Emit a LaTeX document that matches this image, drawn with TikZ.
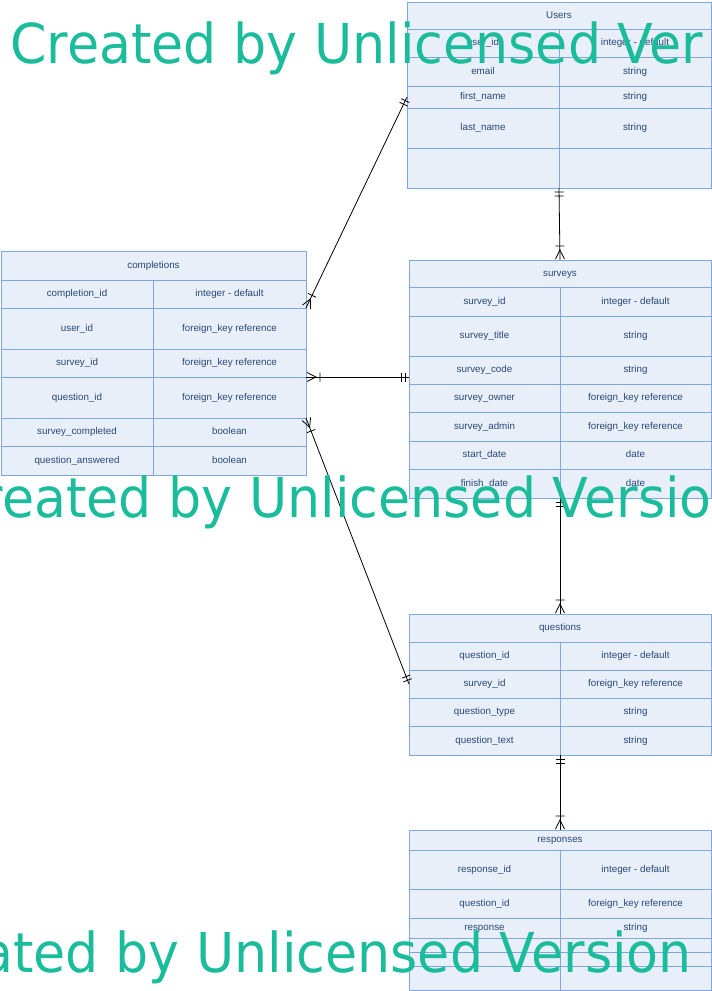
\documentclass[tikz,border=0pt]{standalone}
\usepackage{fontspec}
\setmainfont{Liberation Sans}
\newfontfamily\wmfont[FakeStretch=0.95]{DejaVu Sans}
\usepackage{tikz}
\usetikzlibrary{calc}

\definecolor{cellfill}{RGB}{233,239,249}
\definecolor{cellline}{RGB}{126,166,224}
\definecolor{celltext}{RGB}{38,72,120}
\definecolor{wmgreen}{RGB}{26,188,156}

% crow's foot tips
\pgfdeclarearrow{
  name = onlyone,
  setup code = {
    \pgfarrowssettipend{0pt}
    \pgfarrowssetlineend{0pt}
    \pgfarrowssetbackend{-9pt}
    \pgfarrowssetvisualbackend{-9pt}
    \pgfarrowshullpoint{0pt}{5pt}
    \pgfarrowshullpoint{0pt}{-5pt}
    \pgfarrowshullpoint{-9pt}{5pt}
    \pgfarrowshullpoint{-9pt}{-5pt}
  },
  drawing code = {
    \pgfsetdash{}{0pt}
    \pgfpathmoveto{\pgfqpoint{-4pt}{4.5pt}}
    \pgfpathlineto{\pgfqpoint{-4pt}{-4.5pt}}
    \pgfpathmoveto{\pgfqpoint{-8pt}{4.5pt}}
    \pgfpathlineto{\pgfqpoint{-8pt}{-4.5pt}}
    \pgfusepathqstroke
  }
}
\pgfdeclarearrow{
  name = onemany,
  setup code = {
    \pgfarrowssettipend{0pt}
    \pgfarrowssetlineend{0pt}
    \pgfarrowssetbackend{-15pt}
    \pgfarrowssetvisualbackend{-15pt}
    \pgfarrowshullpoint{0pt}{5pt}
    \pgfarrowshullpoint{0pt}{-5pt}
    \pgfarrowshullpoint{-15pt}{5pt}
    \pgfarrowshullpoint{-15pt}{-5pt}
  },
  drawing code = {
    \pgfsetdash{}{0pt}
    \pgfpathmoveto{\pgfqpoint{-1pt}{4.5pt}}
    \pgfpathlineto{\pgfqpoint{-10pt}{0pt}}
    \pgfpathlineto{\pgfqpoint{-1pt}{-4.5pt}}
    \pgfpathmoveto{\pgfqpoint{-14pt}{4.5pt}}
    \pgfpathlineto{\pgfqpoint{-14pt}{-4.5pt}}
    \pgfusepathqstroke
  }
}

\tikzset{
  cell/.style={draw=cellline, fill=cellfill, line width=0.9pt, inner sep=0pt, outer sep=0pt,
    text=celltext, text height=7pt, text depth=2pt, font=\fontsize{9.8}{11}\selectfont},
  rel/.style={draw=black, line width=0.8pt},
  wmark/.style={text=wmgreen, inner sep=0pt, anchor=base west, font=\wmfont\fontsize{55}{60}\selectfont}
}

\begin{document}
\begin{tikzpicture}[x=1pt,y=-1pt]
\useasboundingbox (0,0) rectangle (712,991);

% Users
\node[cell, minimum width=304pt, minimum height=27pt] (users) at (559,15.5) {Users};
\foreach \ya/\yb/\nm/\ty [count=\i] in {29/57/user\_id/integer - default, 57/86/email/string,
  86/108/first\_name/string, 108/148/last\_name/string, 148/188/{}/{}} {
\node[cell, minimum width=152pt, minimum height={\yb-\ya}] (users-l\i) at (483,{(\ya+\yb)/2}) {\nm};
\node[cell, minimum width=152pt, minimum height={\yb-\ya}] (users-r\i) at (635,{(\ya+\yb)/2}) {\ty};
}

% completions
\node[cell, minimum width=305pt, minimum height=29pt] (comp) at (153.5,265.5) {completions};
\foreach \ya/\yb/\nm/\ty [count=\i] in {280/308/completion\_id/integer - default,
  308/349/user\_id/foreign\_key reference, 349/377/survey\_id/foreign\_key reference,
  377/418/question\_id/foreign\_key reference, 418/446/survey\_completed/boolean,
  446/475/question\_answered/boolean} {
\node[cell, minimum width=152pt, minimum height={\yb-\ya}] (comp-l\i) at (77,{(\ya+\yb)/2}) {\nm};
\node[cell, minimum width=153pt, minimum height={\yb-\ya}] (comp-r\i) at (229.5,{(\ya+\yb)/2}) {\ty};
}

% surveys
\node[cell, minimum width=302pt, minimum height=27pt] (surv) at (560,273.5) {surveys};
\foreach \ya/\yb/\nm/\ty [count=\i] in {287/316/survey\_id/integer - default,
  316/356/survey\_title/string, 356/384/survey\_code/string,
  384/412/survey\_owner/foreign\_key reference, 412/441/survey\_admin/foreign\_key reference,
  441/469/start\_date/date, 469/498/finish\_date/date} {
\node[cell, minimum width=151pt, minimum height={\yb-\ya}] (surv-l\i) at (484.5,{(\ya+\yb)/2}) {\nm};
\node[cell, minimum width=151pt, minimum height={\yb-\ya}] (surv-r\i) at (635.5,{(\ya+\yb)/2}) {\ty};
}

% questions
\node[cell, minimum width=302pt, minimum height=28pt] (ques) at (560,628) {questions};
\foreach \ya/\yb/\nm/\ty [count=\i] in {642/670/question\_id/integer - default,
  670/698/survey\_id/foreign\_key reference, 698/726/question\_type/string,
  726/755/question\_text/string} {
\node[cell, minimum width=151pt, minimum height={\yb-\ya}] (ques-l\i) at (484.5,{(\ya+\yb)/2}) {\nm};
\node[cell, minimum width=151pt, minimum height={\yb-\ya}] (ques-r\i) at (635.5,{(\ya+\yb)/2}) {\ty};
}

% responses
\node[cell, minimum width=302pt, minimum height=20pt] (resp) at (560,840) {responses};
\foreach \ya/\yb/\nm/\ty [count=\i] in {850/889/response\_id/integer - default,
  889/918/question\_id/foreign\_key reference, 918/938/response/string,
  938/952/{}/{}, 952/966/{}/{}, 966/990/{}/{}} {
\node[cell, minimum width=151pt, minimum height={\yb-\ya}] (resp-l\i) at (484.5,{(\ya+\yb)/2}) {\nm};
\node[cell, minimum width=151pt, minimum height={\yb-\ya}] (resp-r\i) at (635.5,{(\ya+\yb)/2}) {\ty};
}

% relations
\draw[rel, onlyone-onemany] (users-l3.west) -- (comp-r1.south east);
\draw[rel, onemany-onlyone] (comp-r3.south east) -- (comp-r3.south east -| surv-l3.west);
\draw[rel, onemany-onlyone] (comp-r4.south east) -- (ques-l2.west);
\draw[rel, onlyone-onemany] (users-l5.south east) -- (surv.north);
\draw[rel, onlyone-onemany] (surv-l7.south east) -- (ques.north);
\draw[rel, onlyone-onemany] (ques-l4.south east) -- (resp.north);

% watermark
\begin{scope}
\clip (0,0) rectangle (712,991);
\node[wmark] (wm1) at (10,63) {Created by Unlicensed Ver};
\node[wmark] (wm2) at (-55,517) {Created by Unlicensed Versio};
\node[wmark] (wm3) at (-108,972) {Created by Unlicensed Version};
\end{scope}
\end{tikzpicture}
\end{document}
